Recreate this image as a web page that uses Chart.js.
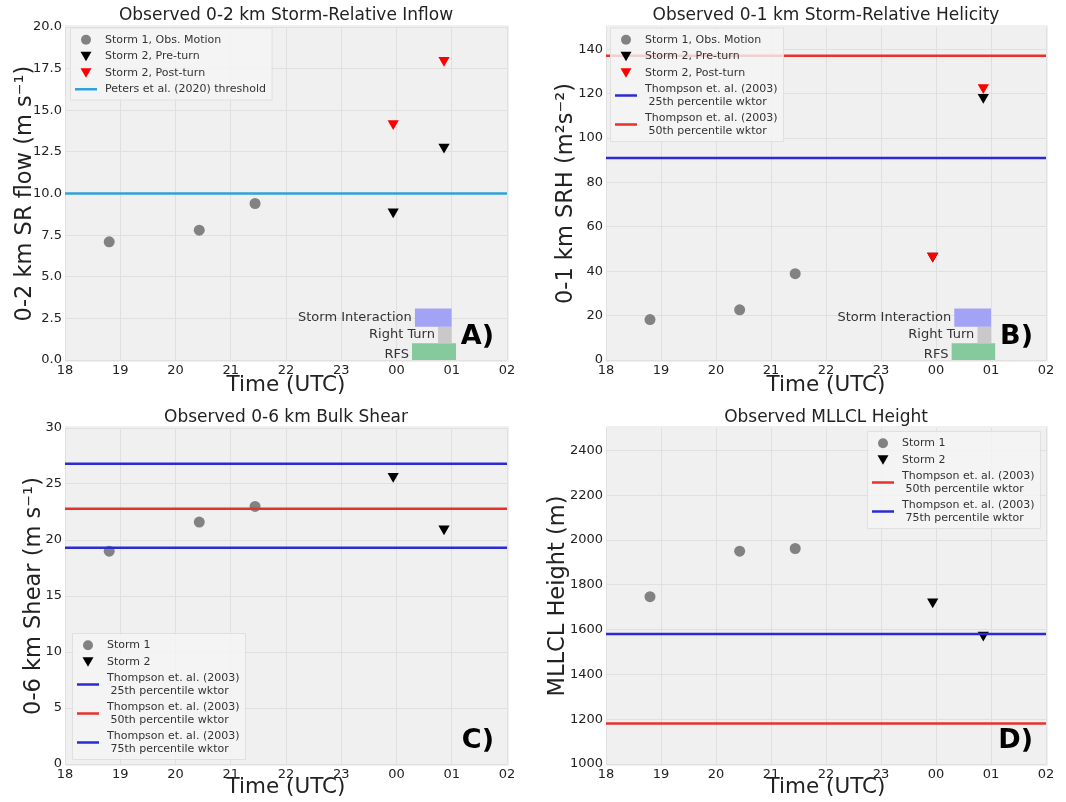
<!DOCTYPE html>
<html>
<head>
<meta charset="utf-8">
<script src="https://cdn.jsdelivr.net/npm/chart.js@4.4.0/dist/chart.umd.min.js"></script>
<style>
  body { margin: 0; background: #fff; width: 1066px; height: 802px; position: relative; overflow: hidden; }
  canvas { position: absolute; }
</style>
</head>
<body>
<canvas id="panelA" width="533" height="400" style="left:0;top:0"></canvas>
<canvas id="panelB" width="533" height="400" style="left:533px;top:0"></canvas>
<canvas id="panelC" width="533" height="402" style="left:0;top:400px"></canvas>
<canvas id="panelD" width="533" height="402" style="left:533px;top:400px"></canvas>
<script>
// time axis (hours UTC, 24 = 00 next day)
const hourLabels = ['18', '19', '20', '21', '22', '23', '00', '01', '02'];
const storm1Time = [18.8, 20.43, 21.44];
const storm2Time = [23.94, 24.86];

// A) 0-2 km storm-relative inflow
const inflowStorm1 = [7.1, 7.8, 9.4];
const inflowPre = [8.9, 12.8];
const inflowPost = [14.2, 18.0];
const petersThreshold = 10;

// B) 0-1 km SRH
const srhStorm1 = [18.2, 22.6, 38.9];
const srhPre = [46.8, 118.3];
const srhPost = [46.8, 122.8];
const srh25 = 91;
const srh50 = 137;

// C) 0-6 km bulk shear
const shearStorm1 = [19.0, 21.6, 23.0];
const shearStorm2 = [25.7, 21.0];
const shear25 = 19.3;
const shear50 = 22.8;
const shear75 = 26.8;

// D) MLLCL height
const lclStorm1 = [1747, 1950, 1962];
const lclStorm2 = [1724, 1576];
const lcl50 = 1181;
const lcl75 = 1580;

// event windows shown in A and B
const eventNames = ['Storm Interaction', 'Right Turn', 'RFS'];
const eventStart = [24.33, 24.75, 24.28];
const eventEnd = [25.0, 25.0, 25.08];

// layout / style
const eventSlots = [[0.10, 0.155], [0.05, 0.10], [0.0, 0.05]];
const eventColors = ['#a3a3f5', '#c9c9c9', '#85c99c'];
const BLUE = '#2b2bd6';
const RED = '#e8312c';
const FONT = '"DejaVu Sans", "Liberation Sans", sans-serif';
Chart.defaults.font.family = FONT;
Chart.defaults.color = '#222';

const pts = (xs, ys) => xs.map((x, i) => ({ x: x, y: ys[i] }));
const hline = (v) => [{ x: 18, y: v }, { x: 26, y: v }];

function circles(label, ys, order) {
    return { label, data: pts(storm1Time, ys), showLine: false, pointStyle: 'circle',
        pointRadius: 5.5, pointBackgroundColor: '#828282', pointBorderWidth: 0, order };
}
function tris(label, ys, color, order) {
    return { label, data: pts(storm2Time, ys), showLine: false, pointStyle: 'triangle',
        pointRotation: 180, pointRadius: 6.5, pointBackgroundColor: color, pointBorderWidth: 0, order };
}
function level(label, v, color, order) {
    return { label, data: hline(v), borderColor: color, borderWidth: 2.5, pointRadius: 0, order };
}
function eventBars() {
    return eventNames.map((n, i) => ({
        label: n, yAxisID: 'yf',
        data: [{ x: eventStart[i], y: eventSlots[i][1] }, { x: eventEnd[i], y: eventSlots[i][1] }],
        borderWidth: 0, pointRadius: 0, fill: { value: eventSlots[i][0] },
        backgroundColor: eventColors[i], order: 9
    }));
}

const plotBg = {
    id: 'plotBg',
    beforeDraw(chart) {
        const { ctx, chartArea: a } = chart;
        ctx.save();
        ctx.fillStyle = '#f0f0f0';
        ctx.fillRect(a.left, a.top - 2, a.right - a.left + 2, a.bottom - a.top + 4);
        ctx.restore();
    }
};

const eventLabels = {
    id: 'eventLabels',
    afterDatasetsDraw(chart, args, opts) {
        if (!opts.show) return;
        const ctx = chart.ctx, xs = chart.scales.x, yf = chart.scales.yf;
        ctx.save();
        ctx.font = '13px ' + FONT;
        ctx.fillStyle = '#333';
        ctx.textAlign = 'right';
        ctx.textBaseline = 'middle';
        eventNames.forEach((n, i) => {
            const yc = yf.getPixelForValue((eventSlots[i][0] + eventSlots[i][1]) / 2);
            ctx.fillText(n, xs.getPixelForValue(eventStart[i]) - 3, yc + (i === 2 ? 3 : 0));
        });
        ctx.restore();
    }
};

const panelLetter = {
    id: 'panelLetter',
    afterDraw(chart, args, opts) {
        if (!opts.text) return;
        const { ctx, chartArea: a } = chart;
        ctx.save();
        ctx.font = 'bold 27px ' + FONT;
        ctx.fillStyle = '#000';
        ctx.textAlign = 'right';
        ctx.textBaseline = 'middle';
        ctx.fillText(opts.text, a.right - 13, a.bottom - 23);
        ctx.restore();
    }
};

const boxLegend = {
    id: 'boxLegend',
    afterDraw(chart, args, opts) {
        if (!opts.items) return;
        const { ctx, chartArea: a } = chart;
        const mx = a.left + opts.dx;
        const tx = mx + 19;
        let y = a.top + opts.dy;
        ctx.save();
        ctx.font = '11px ' + FONT;
        const rows = opts.items.map(it => ({ ...it, h: it.text.length > 1 ? 29 : 16.5 }));
        const maxW = Math.max(...opts.items.flatMap(it => it.text.map(t => ctx.measureText(t).width)));
        const totalH = rows.reduce((s, r) => s + r.h, 0);
        ctx.fillStyle = 'rgba(244,244,244,0.82)';
        ctx.strokeStyle = 'rgba(222,222,222,0.9)';
        ctx.lineWidth = 1;
        ctx.beginPath();
        ctx.rect(mx - 15.5, y - 3.5, tx + maxW + 6 - (mx - 15.5), totalH + 6);
        ctx.fill();
        ctx.stroke();
        rows.forEach(r => {
            const cy = y + r.h / 2;
            ctx.fillStyle = r.color;
            ctx.strokeStyle = r.color;
            if (r.kind === 'circle') {
                ctx.beginPath();
                ctx.arc(mx, cy, 5, 0, Math.PI * 2);
                ctx.fill();
            } else if (r.kind === 'tri') {
                ctx.beginPath();
                ctx.moveTo(mx - 5.5, cy - 4.5);
                ctx.lineTo(mx + 5.5, cy - 4.5);
                ctx.lineTo(mx, cy + 5);
                ctx.closePath();
                ctx.fill();
            } else {
                ctx.lineWidth = 2.5;
                ctx.beginPath();
                ctx.moveTo(mx - 11, cy);
                ctx.lineTo(mx + 11, cy);
                ctx.stroke();
            }
            ctx.fillStyle = '#333';
            ctx.textAlign = 'left';
            ctx.textBaseline = 'middle';
            if (r.text.length > 1) {
                ctx.fillText(r.text[0], tx, cy - 6);
                ctx.fillText(r.text[1], tx, cy + 6.5);
            } else {
                ctx.fillText(r.text[0], tx, cy);
            }
            y += r.h;
        });
        ctx.restore();
    }
};

function makePanel(id, p) {
    const scales = {
        x: {
            type: 'linear', min: 18, max: 26,
            afterFit: (s) => { s.height = p.xHeight; },
            border: { display: false },
            grid: { color: '#e0e0e0', drawTicks: false },
            ticks: { stepSize: 1, padding: 3, font: { size: 13 }, color: '#222',
                callback: (v, i) => hourLabels[i] },
            title: { display: true, text: 'Time (UTC)', font: { size: 21.5 }, color: '#222',
                padding: { top: 0, bottom: 2 } }
        },
        y: {
            type: 'linear', min: p.yMin, max: p.yMax,
            afterFit: (s) => { s.width = p.yWidth; },
            afterBuildTicks: (s) => { s.ticks = s.ticks.filter(t => t.value <= p.yTop); },
            border: { display: false },
            grid: { color: '#e0e0e0', drawTicks: false },
            ticks: { stepSize: p.yStep, padding: 3, font: { size: 13 }, color: '#222',
                callback: p.yFormat || ((v) => v) },
            title: { display: true, text: p.yTitle, font: { size: 22.5 }, color: '#222',
                padding: { top: p.yTitlePad, bottom: 0 } }
        },
        yf: { type: 'linear', min: 0, max: 1, display: false }
    };
    return new Chart(document.getElementById(id), {
        type: 'line',
        data: { datasets: p.datasets },
        options: {
            responsive: false,
            animation: false,
            events: [],
            layout: { padding: { left: 0, top: 0, right: p.padRight, bottom: 0 } },
            scales,
            plugins: {
                legend: { display: false },
                tooltip: { enabled: false },
                title: { display: true, text: p.title, fullSize: false, font: { size: 17, weight: 'normal' },
                    color: '#222', padding: { top: p.titlePad[0], bottom: p.titlePad[1] } },
                eventLabels: { show: !!p.events },
                panelLetter: { text: p.letter },
                boxLegend: p.legend
            }
        },
        plugins: [plotBg, eventLabels, panelLetter, boxLegend]
    });
}

makePanel('panelA', {
    title: 'Observed 0-2 km Storm-Relative Inflow',
    yTitle: '0-2 km SR flow (m s\u207B\u00B9)',
    yMin: 0, yMax: 20, yTop: 20, yStep: 2.5, yFormat: (v) => v.toFixed(1),
    yWidth: 65, xHeight: 40, padRight: 26, yTitlePad: 12, titlePad: [5, 1.6], letter: 'A)', events: true,
    datasets: [
        tris('Storm 2, Post-turn', inflowPost, 'red', 0),
        tris('Storm 2, Pre-turn', inflowPre, '#000', 1),
        circles('Storm 1, Obs. Motion', inflowStorm1, 1),
        level('Peters et al. (2020) threshold', petersThreshold, '#30a2da', 3),
        ...eventBars()
    ],
    legend: { dx: 21, dy: 4.5, items: [
        { kind: 'circle', color: '#828282', text: ['Storm 1, Obs. Motion'] },
        { kind: 'tri', color: '#000', text: ['Storm 2, Pre-turn'] },
        { kind: 'tri', color: 'red', text: ['Storm 2, Post-turn'] },
        { kind: 'line', color: '#30a2da', text: ['Peters et al. (2020) threshold'] }
    ] }
});

makePanel('panelB', {
    title: 'Observed 0-1 km Storm-Relative Helicity',
    yTitle: '0-1 km SRH (m\u00B2s\u207B\u00B2)',
    yMin: 0, yMax: 150, yTop: 140, yStep: 20,
    yWidth: 73, xHeight: 40, padRight: 20, yTitlePad: 20, titlePad: [5, 1.6], letter: 'B)', events: true,
    datasets: [
        tris('Storm 2, Post-turn', srhPost, 'red', 0),
        tris('Storm 2, Pre-turn', srhPre, '#000', 1),
        circles('Storm 1, Obs. Motion', srhStorm1, 1),
        level('Thompson et. al. (2003) 25th percentile wktor', srh25, BLUE, 3),
        level('Thompson et. al. (2003) 50th percentile wktor', srh50, RED, 3),
        ...eventBars()
    ],
    legend: { dx: 20, dy: 4.5, items: [
        { kind: 'circle', color: '#828282', text: ['Storm 1, Obs. Motion'] },
        { kind: 'tri', color: '#000', text: ['Storm 2, Pre-turn'] },
        { kind: 'tri', color: 'red', text: ['Storm 2, Post-turn'] },
        { kind: 'line', color: BLUE, text: ['Thompson et. al. (2003)', ' 25th percentile wktor'] },
        { kind: 'line', color: RED, text: ['Thompson et. al. (2003)', ' 50th percentile wktor'] }
    ] }
});

makePanel('panelC', {
    title: 'Observed 0-6 km Bulk Shear',
    yTitle: '0-6 km Shear (m s\u207B\u00B9)',
    yMin: 0, yMax: 30, yTop: 30, yStep: 5,
    yWidth: 65, xHeight: 38, padRight: 26, yTitlePad: 21, titlePad: [7, 0.6], letter: 'C)',
    datasets: [
        level('Thompson et. al. (2003) 25th percentile wktor', shear25, BLUE, 1),
        level('Thompson et. al. (2003) 50th percentile wktor', shear50, RED, 1),
        level('Thompson et. al. (2003) 75th percentile wktor', shear75, BLUE, 1),
        circles('Storm 1', shearStorm1, 2),
        tris('Storm 2', shearStorm2, '#000', 2)
    ],
    legend: { dx: 23, dy: 209, items: [
        { kind: 'circle', color: '#828282', text: ['Storm 1'] },
        { kind: 'tri', color: '#000', text: ['Storm 2'] },
        { kind: 'line', color: BLUE, text: ['Thompson et. al. (2003)', ' 25th percentile wktor'] },
        { kind: 'line', color: RED, text: ['Thompson et. al. (2003)', ' 50th percentile wktor'] },
        { kind: 'line', color: BLUE, text: ['Thompson et. al. (2003)', ' 75th percentile wktor'] }
    ] }
});

makePanel('panelD', {
    title: 'Observed MLLCL Height',
    yTitle: 'MLLCL Height (m)',
    yMin: 1000, yMax: 2500, yTop: 2400, yStep: 200,
    yWidth: 73, xHeight: 38, padRight: 20, yTitlePad: 12, titlePad: [7, 0.6], letter: 'D)',
    datasets: [
        level('Thompson et. al. (2003) 50th percentile wktor', lcl50, RED, 1),
        level('Thompson et. al. (2003) 75th percentile wktor', lcl75, BLUE, 1),
        circles('Storm 1', lclStorm1, 2),
        tris('Storm 2', lclStorm2, '#000', 2)
    ],
    legend: { dx: 277, dy: 7, items: [
        { kind: 'circle', color: '#828282', text: ['Storm 1'] },
        { kind: 'tri', color: '#000', text: ['Storm 2'] },
        { kind: 'line', color: RED, text: ['Thompson et. al. (2003)', ' 50th percentile wktor'] },
        { kind: 'line', color: BLUE, text: ['Thompson et. al. (2003)', ' 75th percentile wktor'] }
    ] }
});
</script>
</body>
</html>
